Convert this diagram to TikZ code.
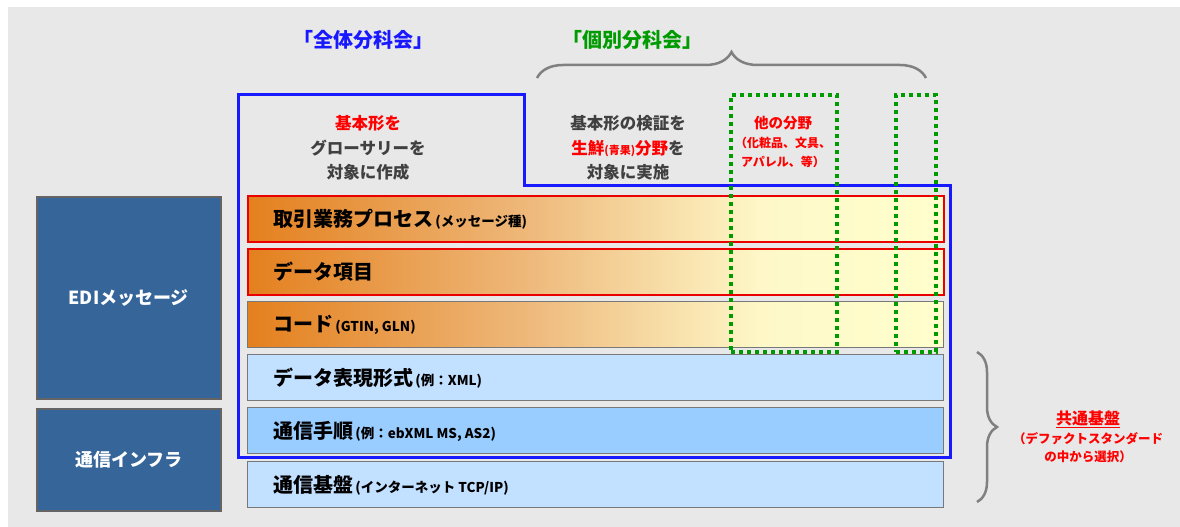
\documentclass[tikz,border=0pt]{standalone}
\usepackage{fontspec}
\setmainfont{Noto Sans CJK JP}
\usetikzlibrary{decorations.pathreplacing}
\definecolor{bg}{RGB}{232,232,232}
\definecolor{edi}{RGB}{53,101,153}
\definecolor{edib}{RGB}{100,100,100}
\definecolor{barorange}{RGB}{228,128,30}
\definecolor{barpeach}{RGB}{238,184,122}
\definecolor{barpale}{RGB}{254,248,200}
\definecolor{baryellow}{RGB}{255,255,204}
\definecolor{lblue}{RGB}{194,224,255}
\definecolor{mblue}{RGB}{153,204,255}
\definecolor{bargray}{RGB}{120,120,120}
\definecolor{bred}{RGB}{235,0,0}
\definecolor{tred}{RGB}{255,0,0}
\definecolor{oblue}{RGB}{25,25,255}
\definecolor{dgreen}{RGB}{0,155,0}
\definecolor{tgray}{RGB}{64,64,64}
\definecolor{brgray}{RGB}{128,128,128}
\pgfdeclarehorizontalshading{orangebar}{100bp}{color(0bp)=(barorange); color(25bp)=(barorange); color(45bp)=(barpeach); color(62bp)=(barpale); color(75bp)=(baryellow); color(100bp)=(baryellow)}
\tikzset{
  sidebox/.style={draw=edib, line width=1.5pt, fill=edi, anchor=north west, minimum width=184pt, inner sep=0pt,
    font=\fontsize{18}{18}\selectfont\bfseries, text=white},
  barbox/.style={anchor=north west, minimum width=696pt, minimum height=46pt, inner sep=0pt, line width=1.3pt},
  orangebox/.style={barbox, shade, shading=orangebar},
  bartext/.style={anchor=west, inner sep=0pt, font=\bfseries, text=black},
  greenbox/.style={draw=dgreen, line width=4pt, dash pattern=on 4pt off 4pt, anchor=north west, inner sep=0pt},
  bracestyle/.style={draw=brgray, line width=2.5pt, decorate},
  lbl/.style={inner sep=0pt, font=\bfseries, align=center},
}
\newcommand{\bigtxt}[1]{{\fontsize{20}{20}\selectfont #1}}
\newcommand{\smltxt}[1]{{\fontsize{13.5}{13.5}\selectfont #1}}
\begin{document}
\begin{tikzpicture}[x=1pt,y=-1pt]
\useasboundingbox (0,0) rectangle (1180,527);
\fill[bg] (8,7) rectangle (1180,527);

% left boxes
\node[sidebox, minimum height=202pt] (edi) at (36,196) {EDIメッセージ};
\node[sidebox, minimum height=102pt] (infra) at (36,408) {通信インフラ};

% bars
\node[orangebox, draw=bred, line width=2pt] (b1) at (247,195) {};
\node[orangebox, draw=bred, line width=2pt] (b2) at (247,248) {};
\node[orangebox, draw=bargray] (b3) at (247,301) {};
\node[barbox, fill=lblue, draw=bargray] (b4) at (247,354) {};
\node[barbox, fill=mblue, draw=bargray] (b5) at (247,407) {};
\node[barbox, fill=lblue, draw=bargray] (b6) at (247,461) {};

\node[bartext] (t1) at (273,219) {\bigtxt{取引業務プロセス}\ \smltxt{(メッセージ種)}};
\node[bartext] (t2) at (273,272) {\bigtxt{データ項目}};
\node[bartext] (t3) at (273,325) {\bigtxt{コード}\ \smltxt{(GTIN, GLN)}};
\node[bartext] (t4) at (273,378) {\bigtxt{データ表現形式}\ \smltxt{(例：XML)}};
\node[bartext] (t5) at (273,431) {\bigtxt{通信手順}\ \smltxt{(例：ebXML MS, AS2)}};
\node[bartext] (t6) at (273,485) {\bigtxt{通信基盤}\ \smltxt{(インターネット TCP/IP)}};

% blue outline
\draw[oblue, line width=3pt, line join=miter] (238,94) -- (524,94) -- (524,185) -- (950,185) -- (950,457) -- (238,457) -- cycle;

% green dotted boxes
\node[greenbox, minimum width=106pt, minimum height=257pt] (g1) at (729,93) {};
\node[greenbox, minimum width=40pt, minimum height=257pt] (g2) at (894,93) {};

% headings
\node[lbl, text=oblue, font=\fontsize{20}{20}\selectfont\bfseries] (h1) at (363,40) {「全体分科会」};
\node[lbl, text=dgreen, font=\fontsize{20}{20}\selectfont\bfseries] (h2) at (632,40) {「個別分科会」};

% braces
\coordinate (tbL) at (537,78);
\coordinate (tbR) at (926,78);
\draw[bracestyle, decoration={brace, amplitude=26pt}] (tbL) -- (tbR);
\coordinate (rbT) at (977,352);
\coordinate (rbB) at (977,502);
\draw[bracestyle, decoration={brace, amplitude=20pt}] (rbT) -- (rbB);

% texts
\node[lbl, text=tgray, font=\fontsize{16.5}{24.5}\selectfont\bfseries] (c1) at (368,148)
  {\textcolor{tred}{基本形を}\\グローサリーを\\対象に作成};
\node[lbl, text=tgray, font=\fontsize{16.5}{24.5}\selectfont\bfseries] (c2) at (628,148)
  {基本形の検証を\\\textcolor{tred}{生鮮{\fontsize{11}{11}\selectfont (青果)}分野}を\\対象に実施};
\node[lbl, text=tred, font=\fontsize{12}{19}\selectfont\bfseries] (c3) at (783,142)
  {{\fontsize{14.5}{14.5}\selectfont 他の分野}\\（化粧品、文具、\\アパレル、等）};
\node[lbl, text=tred, font=\fontsize{12.5}{18.5}\selectfont\bfseries] (c4) at (1088,437)
  {{\fontsize{16}{16}\selectfont\underline{共通基盤}}\\（デファクトスタンダード\\の中から選択）};
\end{tikzpicture}
\end{document}
